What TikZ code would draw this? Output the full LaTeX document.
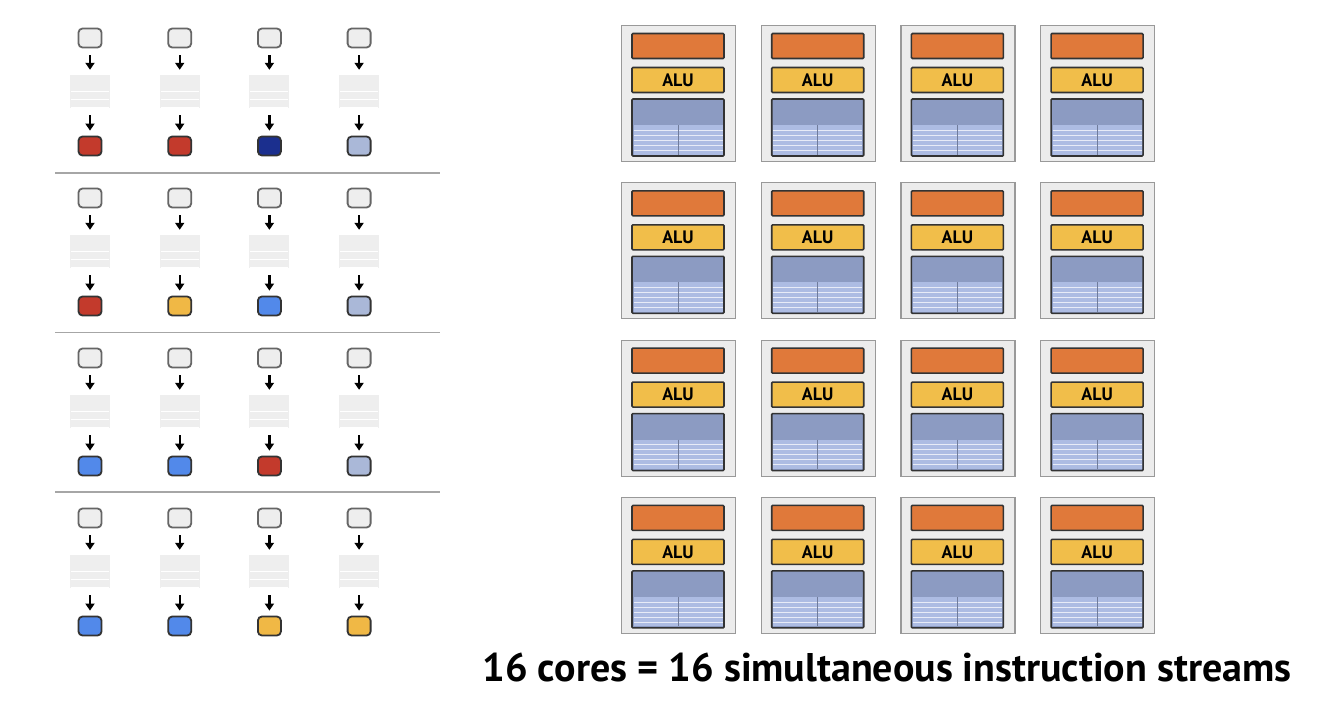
\documentclass[tikz,border=0pt]{standalone}
\usepackage{fontspec}
\newfontfamily\capfont{PT Sans}
\usetikzlibrary{arrows.meta}
\definecolor{boxgray}{HTML}{EEEEEE}
\definecolor{coregray}{HTML}{ECECEC}
\definecolor{ctrlorange}{HTML}{E0793A}
\definecolor{aluyellow}{HTML}{F1BE4A}
\definecolor{ctxblue}{HTML}{8C9BC2}
\definecolor{ctxpale}{HTML}{ADBCE3}
\definecolor{resred}{HTML}{C33A2C}
\definecolor{resdark}{HTML}{1B2F8E}
\definecolor{resblue}{HTML}{5289EA}
\definecolor{respale}{HTML}{AAB8D8}
\definecolor{resyellow}{HTML}{F0B845}
\newcommand\DrawStream[4]{
	\node [fetch] (#4-in) at (#1,#2){};
	\node [regs] (#4-reg) at (#1,#2+53.5){};
	\foreach \s in {1,2,3}
	{
		\draw [white, line width=0.8pt] (#1-19,#2+45+8*\s) -- (#1+19,#2+45+8*\s);
	}
	\node [result, fill=#3] (#4-out) at (#1,#2+108){};
	\draw [flow] (#4-in) -- (#4-reg);
	\draw [flow] (#4-reg) -- (#4-out);
}
\newcommand\DrawCore[3]{
	\node [core] (#3) at (#1+57.5,#2+68.5){};
	\node [ctrl] (#3-ctrl) at (#1+57,#2+21){};
	\node [alu] (#3-alu) at (#1+57,#2+55){ALU};
	\node [ctx] (#3-ctx) at (#1+57,#2+102.5){};
	\fill [ctxpale] (#1+12.5,#2+100) rectangle (#1+101.5,#2+129.5);
	\foreach \s in {0,1,...,4}
	{
		\draw [white!70!ctxpale, line width=0.6pt] (#1+12.5,#2+105+5*\s) -- (#1+101.5,#2+105+5*\s);
	}
	\draw [ctxblue!80!black, line width=0.8pt] (#1+57,#2+100) -- (#1+57,#2+129.5);
}

\begin{document}
\begin{tikzpicture}[x=1pt, y=-1pt,
	fetch/.style={draw=black!60, fill=boxgray, line width=1.8pt, rounded corners=4pt, minimum width=23pt, minimum height=19pt, inner sep=0pt},
	result/.style={draw=black!80, line width=1.8pt, rounded corners=4pt, minimum width=23pt, minimum height=19pt, inner sep=0pt},
	regs/.style={fill=boxgray, minimum width=40pt, minimum height=33pt, inner sep=0pt},
	flow/.style={line width=2.2pt, -{Triangle[width=9pt, length=7pt]}, shorten <=7pt, shorten >=5pt},
	core/.style={draw=black!40, fill=coregray, line width=1.2pt, minimum width=114pt, minimum height=136pt, inner sep=0pt},
	ctrl/.style={draw=black!80, fill=ctrlorange, line width=1.6pt, rounded corners=1pt, minimum width=92pt, minimum height=25pt, inner sep=0pt},
	alu/.style={draw=black!80, fill=aluyellow, line width=1.6pt, rounded corners=1pt, minimum width=92pt, minimum height=25pt, inner sep=0pt, font=\capfont\bfseries\fontsize{18}{20}\selectfont},
	ctx/.style={draw=black!80, fill=ctxblue, line width=1.6pt, rounded corners=1pt, minimum width=92pt, minimum height=57pt, inner sep=0pt}]
	\path [use as bounding box] (0,0) rectangle (1320,704);
	% instruction streams
	\foreach \r/\ca/\cb/\cc/\cd in {0/resred/resred/resdark/respale, 1/resred/resyellow/resblue/respale, 2/resblue/resblue/resred/respale, 3/resblue/resblue/resyellow/resyellow}
	{
		\foreach \c/\col in {0/\ca, 1/\cb, 2/\cc, 3/\cd}
		{
			\DrawStream{90+89.7*\c}{38+160*\r}{\col}{stream-\r-\c}
		}
	}
	\foreach \r in {0,1,2}
	{
		\draw [black!35, line width=1.3pt] (55,173+159.5*\r) -- (440,173+159.5*\r);
	}
	% cores
	\foreach \r in {0,1,...,3}
	{
		\foreach \c in {0,1,...,3}
		{
			\DrawCore{621+139.7*\c}{25+157.3*\r}{core-\r-\c}
		}
	}
	\node [font=\capfont\bfseries\fontsize{40}{48}\selectfont] (caption) at (887,667) {16 cores = 16 simultaneous instruction streams};
\end{tikzpicture}
\end{document}
